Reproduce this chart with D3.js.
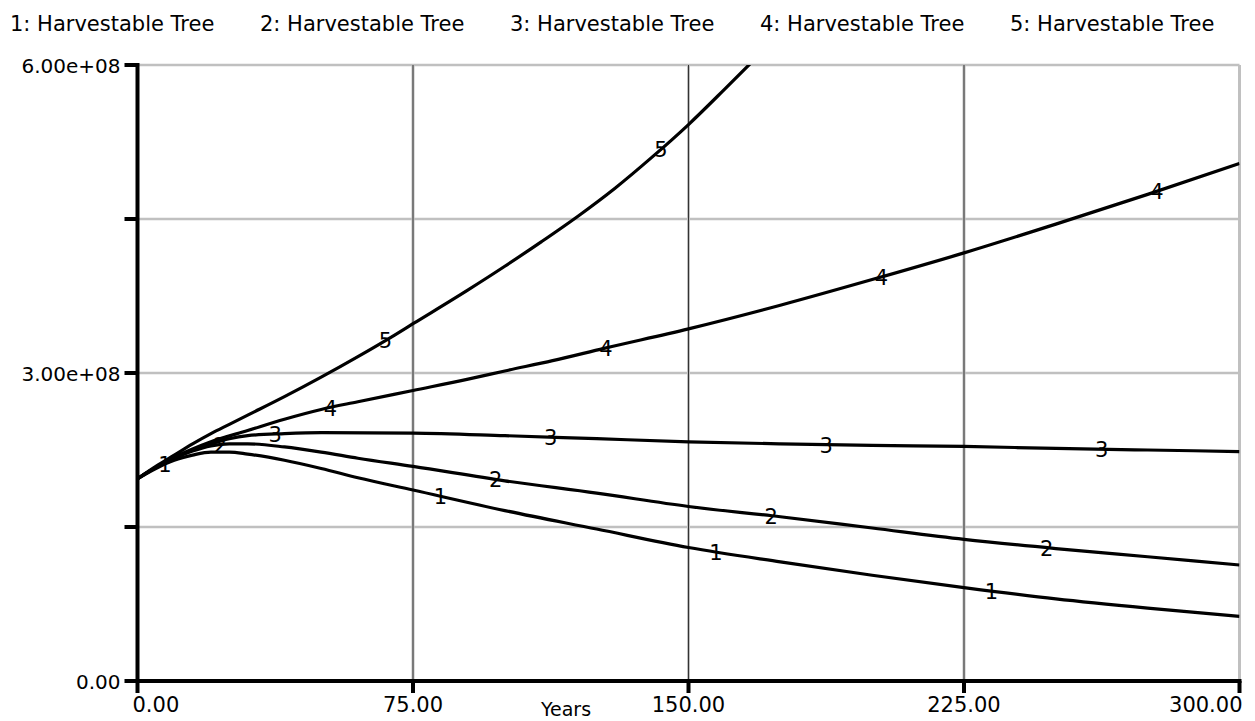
<!DOCTYPE html><html>
<head>
<meta charset="utf-8">
<script src="https://cdnjs.cloudflare.com/ajax/libs/d3/7.8.5/d3.min.js"></script>
<style>
  body { margin: 0; background: #fff; }
  text { font-family: "DejaVu Sans", Verdana, sans-serif; fill: #000; }
</style>
</head>
<body>
<svg id="chart" width="1255" height="721"></svg>
<script>
// years, values in units of 1e8
var years1 = [0, 5, 10, 15, 20, 25, 30, 40, 50, 60, 75, 100, 125, 150, 175, 200, 225, 250, 275, 300];
var tree1  = [1.97, 2.07, 2.15, 2.20, 2.23, 2.23, 2.21, 2.15, 2.07, 1.98, 1.86, 1.66, 1.48, 1.30, 1.16, 1.03, 0.91, 0.80, 0.71, 0.63];

var years2 = [0, 5, 10, 15, 20, 25, 30, 40, 50, 60, 75, 100, 125, 150, 175, 200, 225, 250, 275, 300];
var tree2  = [1.97, 2.08, 2.17, 2.24, 2.29, 2.31, 2.31, 2.28, 2.23, 2.17, 2.09, 1.95, 1.83, 1.70, 1.60, 1.49, 1.38, 1.29, 1.21, 1.13];

var years3 = [0, 5, 10, 15, 20, 25, 30, 40, 50, 75, 100, 125, 150, 175, 200, 225, 250, 275, 300];
var tree3  = [1.97, 2.08, 2.17, 2.25, 2.31, 2.36, 2.39, 2.41, 2.42, 2.415, 2.39, 2.36, 2.33, 2.31, 2.295, 2.285, 2.265, 2.25, 2.235];

var years4 = [0, 5, 10, 15, 20, 30, 40, 50, 60, 75, 90, 100, 113, 127, 150, 175, 200, 225, 250, 275, 300];
var tree4  = [1.97, 2.08, 2.18, 2.26, 2.33, 2.44, 2.55, 2.645, 2.72, 2.83, 2.94, 3.02, 3.12, 3.24, 3.43, 3.66, 3.91, 4.17, 4.45, 4.74, 5.04];

var years5 = [0, 5, 10, 15, 20, 25, 30, 40, 50, 60, 70, 75, 90, 100, 110, 120, 130, 140, 150, 160, 167, 172];
var tree5  = [1.97, 2.09, 2.20, 2.31, 2.41, 2.50, 2.59, 2.77, 2.96, 3.16, 3.37, 3.48, 3.81, 4.04, 4.28, 4.53, 4.80, 5.10, 5.42, 5.77, 6.02, 6.20];

var seriesNames = ["1: Harvestable Tree", "2: Harvestable Tree", "3: Harvestable Tree", "4: Harvestable Tree", "5: Harvestable Tree"];
var xTicks = [0, 75, 150, 225, 300];
var yTicks = [0, 1.5, 3, 4.5, 6];
var yTickLabels = ["0.00", "", "3.00e+08", "", "6.00e+08"];

var allYears = [years1, years2, years3, years4, years5];
var allTrees = [tree1, tree2, tree3, tree4, tree5];

var svg = d3.select("#chart");
var pLeft = 137.5, pRight = 1239.5, pTop = 65, pBottom = 681;

var x = d3.scaleLinear().domain([0, 300]).range([pLeft, pRight]);
var y = d3.scaleLinear().domain([0, 6]).range([pBottom, pTop]);

// legend
svg.selectAll(".legend").data(seriesNames).enter().append("text")
    .attr("x", function(d, i) { return 10 + i * 250; })
    .attr("y", 31)
    .attr("font-size", 21)
    .text(function(d) { return d; });

// grid
var grid = svg.append("g");
grid.selectAll(".hg").data([1.5, 3, 4.5, 6]).enter().append("line")
    .attr("x1", pLeft).attr("x2", pRight)
    .attr("y1", function(d) { return y(d); }).attr("y2", function(d) { return y(d); })
    .attr("stroke", "#c0c0c0").attr("stroke-width", 2.5);
grid.selectAll(".vg").data([75, 150, 225, 300]).enter().append("line")
    .attr("x1", function(d) { return x(d); }).attr("x2", function(d) { return x(d); })
    .attr("y1", pTop).attr("y2", pBottom)
    .attr("stroke", "#c0c0c0").attr("stroke-width", 3);
grid.selectAll(".vd").data([75, 150, 225]).enter().append("line")
    .attr("x1", function(d) { return x(d); }).attr("x2", function(d) { return x(d); })
    .attr("y1", pTop).attr("y2", pBottom)
    .attr("stroke", "#333").attr("stroke-width", 1);

// data lines
svg.append("clipPath").attr("id", "plotclip").append("rect")
    .attr("x", pLeft).attr("y", pTop).attr("width", pRight - pLeft).attr("height", pBottom - pTop);

var line = d3.line().x(function(d) { return x(d[0]); }).y(function(d) { return y(d[1]); })
    .curve(d3.curveMonotoneX);

var plot = svg.append("g").attr("clip-path", "url(#plotclip)");
allTrees.forEach(function(vals, k) {
    var pts = allYears[k].map(function(t, i) { return [t, vals[i]]; });
    plot.append("path").attr("d", line(pts))
        .attr("fill", "none").attr("stroke", "#000").attr("stroke-width", 3.2);
});

// series number labels along each line, every 75 years
function valueAt(k, t) {
    var ys = allYears[k], vs = allTrees[k];
    for (var i = 1; i < ys.length; i++) {
        if (t <= ys[i]) {
            var f = (t - ys[i - 1]) / (ys[i] - ys[i - 1]);
            return vs[i - 1] + f * (vs[i] - vs[i - 1]);
        }
    }
    return vs[vs.length - 1];
}
allTrees.forEach(function(vals, k) {
    for (var t = 7.5 + 15 * k; t <= 300; t += 75) {
        var v = valueAt(k, t);
        if (v > 6) continue;
        svg.append("text").attr("x", x(t)).attr("y", y(v) + 8)
            .attr("text-anchor", "middle").attr("font-size", 21).attr("fill", "#222")
            .text(k + 1);
    }
});

// axes
svg.append("line").attr("x1", pLeft).attr("x2", pLeft).attr("y1", pTop - 2).attr("y2", pBottom + 2)
    .attr("stroke", "#000").attr("stroke-width", 4);
svg.append("line").attr("x1", pLeft - 2).attr("x2", pRight + 2).attr("y1", pBottom).attr("y2", pBottom)
    .attr("stroke", "#000").attr("stroke-width", 4);

svg.selectAll(".yt").data(yTicks).enter().append("line")
    .attr("x1", pLeft - 13).attr("x2", pLeft)
    .attr("y1", function(d) { return y(d); }).attr("y2", function(d) { return y(d); })
    .attr("stroke", "#000").attr("stroke-width", 4);
svg.selectAll(".yl").data(yTicks).enter().append("text")
    .attr("x", pLeft - 17).attr("y", function(d) { return y(d) + 8; })
    .attr("text-anchor", "end").attr("font-size", 20)
    .text(function(d, i) { return yTickLabels[i]; });

svg.selectAll(".xt").data(xTicks).enter().append("line")
    .attr("x1", function(d) { return x(d); }).attr("x2", function(d) { return x(d); })
    .attr("y1", pBottom).attr("y2", pBottom + 12)
    .attr("stroke", "#000").attr("stroke-width", 4);
svg.selectAll(".xl").data(xTicks).enter().append("text")
    .attr("x", function(d, i) { return i === 0 ? x(d) - 5 : (i === xTicks.length - 1 ? x(d) + 3 : x(d)); })
    .attr("y", 712)
    .attr("text-anchor", function(d, i) { return i === 0 ? "start" : (i === xTicks.length - 1 ? "end" : "middle"); })
    .attr("font-size", 21)
    .text(function(d) { return d.toFixed(2); });

svg.append("text").attr("x", 566).attr("y", 716).attr("text-anchor", "middle")
    .attr("font-size", 19).text("Years");
</script>
</body>
</html>
